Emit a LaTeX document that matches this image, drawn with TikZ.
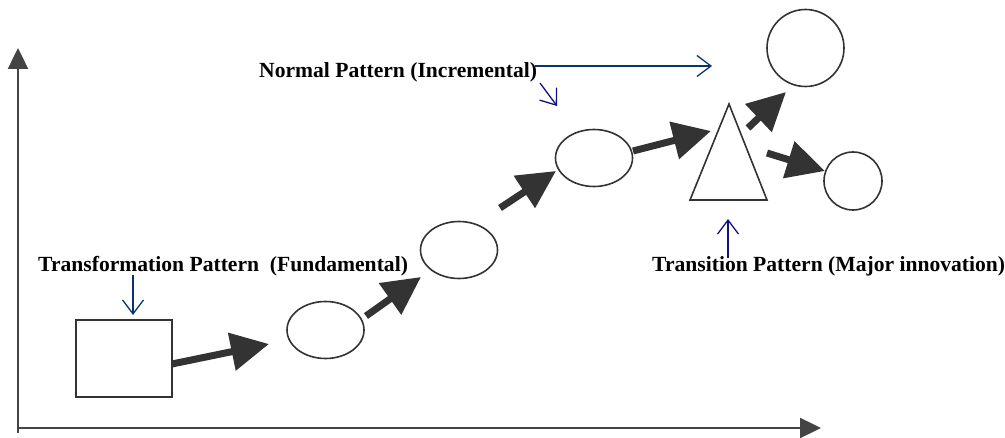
\documentclass[tikz,border=0pt]{standalone}
\usepackage{fontspec}
\setmainfont{Liberation Serif}
\usetikzlibrary{arrows.meta,shapes.geometric,calc}
\definecolor{ink}{HTML}{333333}
\definecolor{axisgray}{HTML}{444444}
\definecolor{tealnavy}{RGB}{10,52,112}
\definecolor{deepnavy}{RGB}{18,18,130}
\tikzset{
  outline/.style={draw=ink, line width=1.6pt, fill=white, inner sep=0pt},
  oval/.style={outline, ellipse, minimum width=77pt, minimum height=57pt},
  ring/.style={outline, circle},
  flow/.style={draw=ink, line width=7pt, -{Triangle[length=38pt,width=37pt]}, ink},
  axisline/.style={draw=axisgray, line width=2.4pt, -{Triangle[length=21pt,width=20pt]}},
  pointer/.style={line width=1.3pt, -{Straight Barb[length=14pt,width=21pt]}},
  label/.style={anchor=base west, inner sep=0pt, font=\bfseries\fontsize{21.6}{24}\selectfont}
}
\begin{document}
\begin{tikzpicture}[x=1pt,y=-1pt]
\useasboundingbox (0,0) rectangle (1005,438);

% axes
\coordinate (origin) at (18,428);
\coordinate (yend) at (18,48);
\coordinate (xend) at (821,428);
\coordinate (ylow) at (18,433);
\draw[axisgray, line width=2.4pt] (ylow) -- (origin);
\draw[axisline] (origin) -- (yend);
\draw[axisline] (origin) -- (xend);

% stages
\node[outline, minimum width=96pt, minimum height=77pt] (sq) at (124,358.5) {};
\node[oval] (e1) at (325.5,330) {};
\node[oval] (e2) at (459,250) {};
\node[oval] (e3) at (594,158) {};
\coordinate (tl) at (690,200);
\coordinate (tt) at (729,104);
\coordinate (tr) at (767,200);
\draw[draw=ink, line width=1.6pt, fill=white] (tl) -- (tt) -- (tr) -- cycle;
\node[ring, minimum size=77pt] (c1) at (805.5,48) {};
\node[ring, minimum size=58pt] (c2) at (853,181) {};

% progression arrows
\coordinate (a1s) at (172,364);
\coordinate (a1e) at (269,344);
\coordinate (a2s) at (366,316);
\coordinate (a2e) at (421,277);
\coordinate (a3s) at (500,208);
\coordinate (a3e) at (556,171);
\coordinate (a4s) at (633,151);
\coordinate (a4e) at (711,131);
\coordinate (a5s) at (748,128);
\coordinate (a5e) at (786,92);
\coordinate (a6s) at (767,153);
\coordinate (a6e) at (825,171);
\draw[flow] (a1s) -- (a1e);
\draw[flow] (a2s) -- (a2e);
\draw[flow] (a3s) -- (a3e);
\draw[flow] (a4s) -- (a4e);
\draw[flow] (a5s) -- (a5e);
\draw[flow] (a6s) -- (a6e);

% labels
\node[label] (nlab) at (259,78) {Normal Pattern (Incremental)};
\node[label] (flab) at (38,272) {Transformation Pattern\ \ (Fundamental)};
\node[label] (tlab) at (652,272) {Transition Pattern (Major innovation)};

% label pointers
\coordinate (p1s) at (535,66);
\coordinate (p1e) at (712,66);
\coordinate (p2s) at (540,83);
\coordinate (p2e) at (557,106);
\coordinate (p3s) at (133,275);
\coordinate (p3e) at (133,315);
\coordinate (p4s) at (728,258);
\coordinate (p4e) at (728,219);
\draw[pointer, tealnavy] (p1s) -- (p1e);
\draw[pointer, deepnavy] (p2s) -- (p2e);
\draw[pointer, tealnavy] (p3s) -- (p3e);
\draw[pointer, deepnavy] (p4s) -- (p4e);
\end{tikzpicture}
\end{document}
